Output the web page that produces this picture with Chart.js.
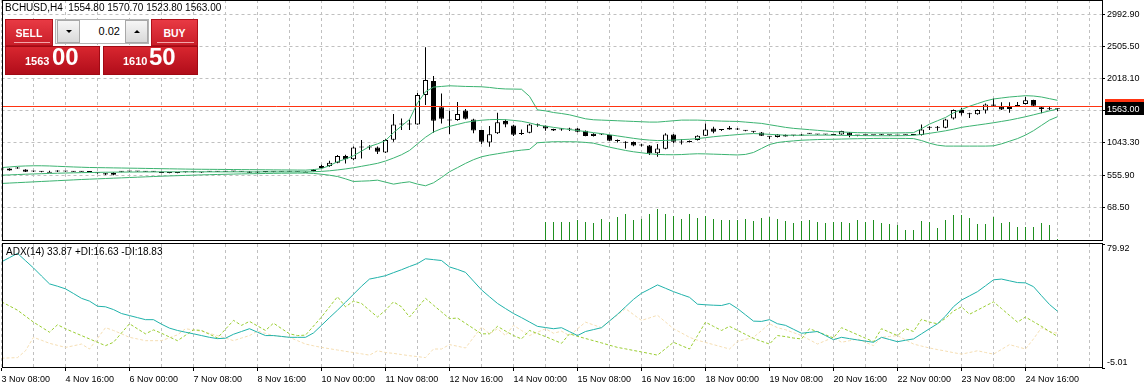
<!DOCTYPE html>
<html><head><meta charset="utf-8">
<script src="https://cdn.jsdelivr.net/npm/chart.js@4.4.1/dist/chart.umd.min.js"></script>
<style>
html,body{margin:0;padding:0;background:#fff;width:1147px;height:388px;overflow:hidden;}
#wrap{position:relative;width:1147px;height:388px;}
canvas{position:absolute;left:0;}
.t{position:absolute;font-family:"Liberation Sans",Arial,sans-serif;font-size:10px;color:#000;white-space:pre;line-height:12px;}
.hdr{position:absolute;background:linear-gradient(#e83a44,#c91e29);box-sizing:border-box;border:1px solid #b0101a;}
.hdr span{position:absolute;left:0;right:0;text-align:center;color:#fff;font-family:"Liberation Sans",sans-serif;font-weight:bold;font-size:10.5px;line-height:12px;}
.hdr i{position:absolute;height:1px;background:#f3a6aa;}
.box{position:absolute;background:linear-gradient(#d8262f,#b10d1a);box-sizing:border-box;border:1px solid #a00a14;}
.box span{position:absolute;color:#fff;font-family:"Liberation Sans",sans-serif;font-weight:bold;white-space:pre;}
.sm{font-size:11px;line-height:11px;}
.bg{font-size:24px;line-height:24px;}
.spin{position:absolute;background:#f2f2f2;box-sizing:border-box;border:1px solid #b4b4b4;}
.btn{position:absolute;background:linear-gradient(#f6f6f6,#d9d9d9);box-sizing:border-box;border:1px solid #a8a8a8;}
.tri{position:absolute;width:0;height:0;border-left:3px solid transparent;border-right:3px solid transparent;}
</style></head>
<body><div id="wrap">
<canvas id="main" width="1147" height="242" style="top:0;width:1147px;height:242px"></canvas>
<canvas id="ind" width="1147" height="146" style="top:242px;width:1147px;height:146px"></canvas>
<div class="t" style="left:5px;top:2px;">BCHUSD,H4  1554.80 1570.70 1523.80 1563.00</div>
<div class="t" style="left:6px;top:246px;">ADX(14) 33.87 +DI:16.63 -DI:18.83</div>

<div class="hdr" style="left:5px;top:19px;width:48px;height:27px;"><span style="top:7px;">SELL</span><i style="left:8px;width:36px;top:22px;"></i></div>
<div class="spin" style="left:55px;top:19px;width:94px;height:25px;">
  <div class="btn" style="left:1px;top:0px;width:23px;height:23px;"><div class="tri" style="left:8px;top:9px;border-top:3px solid #000;"></div></div>
  <div style="position:absolute;left:24px;top:0;width:45px;height:23px;background:#fff;"><span style="position:absolute;right:5px;top:6px;font-family:'Liberation Sans',sans-serif;font-size:11px;line-height:11px;color:#000;">0.02</span></div>
  <div class="btn" style="left:69px;top:0px;width:23px;height:23px;"><div class="tri" style="left:8px;top:9px;border-bottom:3px solid #000;"></div></div>
</div>
<div class="hdr" style="left:151px;top:19px;width:47px;height:27px;"><span style="top:7px;">BUY</span><i style="left:5px;width:37px;top:22px;"></i></div>
<div class="box" style="left:5px;top:46px;width:95px;height:29px;"><span class="sm" style="left:19px;top:9px;">1563</span><span class="bg" style="left:46px;top:-2px;">00</span></div>
<div class="box" style="left:103px;top:46px;width:95px;height:29px;"><span class="sm" style="left:19px;top:9px;">1610</span><span class="bg" style="left:45px;top:-2px;">50</span></div>
</div>
<script>
// ---------- data ----------
const timeLabels = ['3 Nov 08:00','4 Nov 16:00','6 Nov 00:00','7 Nov 08:00','8 Nov 16:00','10 Nov 00:00','11 Nov 08:00','12 Nov 16:00','14 Nov 00:00','15 Nov 08:00','16 Nov 16:00','18 Nov 00:00','19 Nov 08:00','20 Nov 16:00','22 Nov 00:00','23 Nov 08:00','24 Nov 16:00'];
const priceTicks = [68.5, 555.9, 1043.3, 1530.7, 2018.1, 2505.5, 2992.9];
const priceTickLabels = ['68.50','555.90','1043.30','1530.70','2018.10','2505.50','2992.90'];
const adxTicks = [-5.01, 79.92];
const adxTickLabels = ['-5.01','79.92'];
const bid = 1563.00, ask = 1610.50;

const opens = [645,628,658,640,612,607,607,610,612,610,608,607,600,583,562,608,611,610,611,609,606,592,590,600,601,598,608,610,609,611,610,612,595,604,606,607,608,607,607,617,663,693,743,845,795,976,976,976,900,1092,1325,1325,1325,1769,1982,1583,1400,1390,1537,1401,1239,1052,1189,1375,1310,1190,1198,1312,1304,1254,1250,1248,1264,1228,1183,1172,1163,1074,1047,1057,1007,1007,886,955,1173,1052,1068,1087,1153,1264,1239,1274,1264,1228,1213,1204,1137,1133,1163,1158,1173,1183,1173,1174,1166,1173,1204,1158,1160,1160,1168,1160,1158,1168,1165,1163,1274,1274,1274,1416,1542,1477,1477,1537,1628,1592,1557,1618,1633,1694,1583,1557,1554.8];
const highs = [655,662,680,645,622,620,622,630,618,615,614,612,605,590,598,615,616,615,617,614,610,598,596,606,607,604,614,615,616,617,615,616,610,611,612,613,612,612,611,650,712,773,860,865,990,1087,1010,990,1100,1481,1416,1400,1800,2493,2057,1795,1532,1663,1560,1410,1245,1299,1501,1400,1320,1249,1335,1340,1310,1260,1270,1275,1270,1232,1190,1185,1168,1095,1070,1065,1030,1012,1027,1190,1178,1100,1080,1160,1340,1290,1255,1300,1270,1240,1225,1210,1145,1178,1170,1165,1180,1190,1180,1180,1172,1230,1210,1165,1166,1166,1180,1166,1164,1172,1170,1325,1295,1300,1410,1550,1577,1500,1550,1640,1719,1660,1660,1665,1740,1700,1590,1600,1570.7];
const lows = [638,622,652,603,605,598,600,603,606,604,603,600,578,560,555,600,605,604,606,603,585,586,586,595,596,590,603,604,605,606,604,588,585,600,601,602,603,602,603,612,655,685,735,734,780,810,940,875,890,1062,1239,1239,1320,1618,1198,1340,1178,1380,1400,1189,1027,986,1180,1280,1150,1165,1190,1290,1230,1225,1230,1225,1205,1145,1140,1165,1070,1050,961,995,990,860,834,950,1040,1020,1050,1080,1150,1190,1225,1245,1240,1220,1200,1150,1105,1128,1140,1145,1150,1178,1168,1168,1160,1168,1130,1145,1154,1155,1162,1152,1152,1164,1160,1155,1240,1230,1265,1400,1460,1420,1470,1490,1600,1545,1500,1590,1625,1600,1492,1540,1523.8];
const closes = [643,658,655,607,615,609,607,612,610,608,607,605,583,567,592,612,610,611,609,610,590,590,592,601,600,597,610,609,611,610,609,594,596,606,607,608,607,608,607,643,693,743,845,795,976,980,980,910,1087,1325,1330,1330,1769,1997,1380,1410,1385,1481,1410,1234,1062,1174,1356,1325,1168,1180,1325,1318,1264,1234,1249,1250,1213,1148,1148,1174,1077,1072,1049,1007,1009,886,961,1173,1062,1054,1058,1153,1249,1213,1241,1249,1249,1230,1215,1153,1139,1173,1143,1160,1158,1185,1175,1172,1165,1224,1153,1157,1161,1159,1167,1161,1159,1169,1166,1249,1276,1275,1401,1542,1492,1479,1542,1628,1607,1552,1587,1598,1689,1607,1557,1555,1563];
const volumes = [null,null,null,null,null,null,null,null,null,null,null,null,null,null,null,null,null,null,null,null,null,null,null,null,null,null,null,null,null,null,null,null,null,null,null,null,null,null,null,null,null,null,null,null,null,null,null,null,null,null,null,null,null,null,null,null,null,null,null,null,null,null,null,null,null,null,null,null,19,19,19,19,21,19,18,22,19,24,27,21,22,27,32,27,25,22,27,23,25,22,21,21,21,22,20,23,24,22,20,18,20,21,19,18,19,19,18,21,19,21,18,17,16,11,11,20,19,13,21,26,26,23,17,17,24,18,19,14,14,14,18,16,2];

const bbUpper = [670,680,690,695,698,698,695,690,685,680,676,672,670,668,666,664,662,660,658,656,654,652,650,648,646,645,644,643,642,641,640,639,638,637,636,635,634,633,632,640,655,700,760,800,850,920,990,1030,1080,1200,1300,1400,1650,1820,1890,1900,1910,1905,1900,1898,1895,1885,1870,1862,1860,1858,1750,1545,1530,1505,1490,1470,1440,1410,1395,1390,1385,1380,1375,1370,1365,1360,1360,1370,1380,1390,1390,1390,1385,1380,1375,1372,1370,1360,1350,1340,1320,1300,1280,1265,1255,1245,1235,1225,1215,1210,1205,1200,1198,1196,1195,1195,1196,1198,1200,1260,1330,1380,1430,1500,1550,1600,1640,1680,1710,1725,1740,1750,1760,1755,1740,1715,1690];
const bbMiddle = [555,560,565,570,574,578,582,585,588,591,594,596,598,600,601,602,603,604,605,605,606,606,606,606,606,606,606,606,606,606,606,605,605,605,605,605,605,605,605,608,613,622,635,650,668,690,712,735,770,815,865,930,1030,1130,1210,1260,1295,1325,1355,1375,1388,1397,1400,1396,1386,1372,1348,1315,1298,1280,1264,1248,1232,1216,1200,1185,1168,1150,1132,1114,1098,1087,1080,1082,1088,1094,1100,1110,1124,1138,1150,1160,1170,1180,1186,1182,1174,1167,1162,1160,1160,1162,1163,1163,1161,1159,1157,1156,1155,1154,1153,1153,1153,1155,1160,1172,1190,1208,1228,1252,1280,1298,1315,1332,1350,1370,1390,1415,1441,1470,1500,1530,1557];
const bbLower = [430,436,442,448,454,460,466,472,478,484,490,495,500,505,510,515,520,525,530,535,540,544,548,552,556,560,563,566,569,572,575,577,579,581,583,585,586,587,588,582,570,555,535,500,460,465,470,480,450,420,440,455,420,395,440,520,607,670,734,790,834,860,880,900,920,935,946,1047,1055,1062,1062,1062,1060,1052,1040,1010,980,955,930,910,895,880,870,866,865,868,875,880,878,874,870,866,862,870,900,960,1020,1050,1065,1075,1085,1090,1095,1098,1100,1103,1106,1108,1110,1112,1113,1113,1113,1112,1110,1080,1040,1010,996,996,996,996,996,996,1000,1030,1070,1110,1163,1230,1310,1390,1441];

const adx = [67.7,70.6,73.5,68.5,63.5,58.0,52.6,51.0,49.2,46.0,42.7,40.8,37.3,36.9,35.0,32.3,30.9,29.5,28.1,28.1,25.0,22.3,20.7,19.5,18.4,17.2,16.0,15.1,15.4,18.1,20.0,21.9,19.5,17.2,17.2,16.6,16.0,16.0,16.0,19.0,24.2,29.5,34.6,40.0,45.5,51.0,55.9,57.0,58.2,60.3,62.3,64.5,66.5,69.8,69.2,68.6,64.2,62.5,60.5,54.5,48.5,43.8,39.2,35.7,32.3,29.5,26.5,23.5,22.7,21.9,22.6,19.9,17.2,20.0,21.3,22.6,27.2,31.8,36.9,42.0,46.2,49.0,51.9,49.6,47.3,45.3,43.4,38.7,38.3,38.0,37.8,39.2,35.7,31.4,27.1,26.9,28.1,25.3,24.2,21.5,18.8,19.4,20.0,17.2,14.4,16.0,15.1,14.2,13.4,12.6,16.0,14.5,13.0,14.0,14.9,18.4,21.9,25.3,30.5,37.0,41.5,44.4,47.3,51.3,55.4,55.9,54.7,53.5,53.3,50.7,44.5,38.5,33.87];
const plusDI = [40.3,37.5,34.6,30.5,26.4,23.0,19.5,24.6,21.9,19.5,17.2,14.9,12.6,10.3,12.6,19.0,25.3,21.8,18.4,21.1,18.8,16.2,13.7,17.4,21.1,20.7,18.1,15.6,21.6,27.6,24.2,26.9,23.8,20.7,25.7,22.0,18.4,17.2,17.5,23.7,29.9,36.9,43.8,36.9,40.8,39.2,34.5,29.9,34.6,40.3,36.9,29.9,36.3,42.7,38.0,33.4,28.8,29.2,25.6,22.0,18.4,18.4,23.5,20.3,17.2,14.9,20.7,18.6,16.5,14.2,11.9,18.4,16.7,15.2,13.7,12.2,10.6,9.1,8.1,7.0,6.0,4.9,3.8,8.2,12.6,10.3,8.0,17.2,26.4,23.5,20.7,23.5,20.8,18.0,15.3,13.3,11.4,17.2,16.5,15.5,14.9,21.9,19.8,17.7,15.6,22.6,20.2,17.8,15.4,13.0,21.9,19.5,17.2,21.9,20.0,28.3,26.4,25.3,29.0,34.0,36.9,31.8,34.6,37.5,40.3,35.7,31.0,26.4,29.9,26.7,23.5,20.0,16.63];
const minusDI = [1.7,1.9,2.1,6.8,16.0,14.0,11.9,10.5,9.1,10.2,11.4,8.0,15.3,22.6,20.7,18.4,16.0,14.9,13.7,13.7,13.7,15.7,17.7,21.9,21.0,20.2,18.7,17.2,15.5,13.7,15.5,17.2,20.2,18.7,17.2,16.6,16.0,13.7,11.4,10.2,9.1,8.2,7.3,6.4,5.6,4.7,3.8,6.8,5.6,5.0,4.2,3.4,2.8,2.1,8.0,8.0,11.0,9.9,8.7,15.9,23.0,18.4,21.9,17.2,24.2,20.7,17.2,19.5,21.9,18.8,20.2,17.2,21.8,26.4,24.5,22.6,27.0,31.3,35.7,31.6,27.6,29.3,31.1,26.5,21.9,19.0,16.0,14.0,12.5,11.0,9.5,8.0,13.3,14.6,16.0,20.6,25.3,22.6,21.2,19.2,17.2,14.3,11.4,13.7,16.0,12.6,13.7,14.9,12.6,10.3,16.0,16.6,17.2,14.3,11.4,10.0,8.7,7.6,6.6,5.5,4.5,5.6,6.8,5.6,4.5,7.7,11.0,9.5,8.0,14.9,22.6,19.9,18.83];

// ---------- chart building ----------
const FONT = '"Liberation Sans",Arial,sans-serif';
Chart.defaults.font.family = FONT;
Chart.defaults.font.size = 9;
Chart.defaults.color = '#000';
const GRID = '#c0c0c0';
const X_MAX = 137.5625;
const idx = closes.map((_, i) => i);
const gridBars = [];
for (let k = 0; k <= 136; k += 4) gridBars.push(k);

const pts = arr => idx.map(i => ({x: i, y: arr[i]}));
const noPad = s => { s.paddingTop = 0; s.paddingBottom = 0; s.paddingLeft = 0; s.paddingRight = 0; };

const framePlugin = {
  id: 'frame',
  afterDraw(chart) {
    const {ctx, chartArea: a} = chart;
    ctx.save();
    ctx.strokeStyle = '#000'; ctx.lineWidth = 1;
    const l = 2.5, r = Math.round(a.right) + 0.5, t = Math.round(a.top) + 0.5 - (chart.canvas.id === 'ind' ? 1 : 0), b = Math.round(a.bottom) - 0.5;
    ctx.strokeRect(l, t, r - l, b - t);
    ctx.restore();
  }
};

const priceLinePlugin = {
  id: 'priceLines',
  afterDatasetsDraw(chart) {
    const {ctx, chartArea: a, scales} = chart;
    const ya = Math.round(scales.y.getPixelForValue(ask)) + 0.5;
    ctx.save();
    ctx.strokeStyle = '#ff3311'; ctx.lineWidth = 1;
    ctx.beginPath(); ctx.moveTo(a.left, ya); ctx.lineTo(a.right, ya); ctx.stroke();
    ctx.restore();
  },
  afterDraw(chart) {
    const {ctx, chartArea: a, scales} = chart;
    const ya = scales.y.getPixelForValue(ask);
    const yb = scales.y.getPixelForValue(bid);
    ctx.save();
    ctx.fillStyle = '#ff3311';
    ctx.fillRect(a.right + 3, Math.round(ya - 6.5), 39, 13);
    ctx.fillStyle = '#000';
    ctx.fillRect(a.right + 3, Math.round(yb - 6.5), 39, 13);
    ctx.fillStyle = '#fff';
    ctx.font = '9px ' + FONT;
    ctx.textBaseline = 'middle';
    ctx.fillText(bid.toFixed(2), a.right + 5, Math.round(yb) + 0.5);
    ctx.restore();
  }
};

new Chart(document.getElementById('main'), {
  type: 'bar',
  data: {
    datasets: [
      {type: 'line', data: pts(bbUpper), borderColor: '#3cb371', borderWidth: 1, pointRadius: 0, tension: 0, yAxisID: 'y'},
      {type: 'line', data: pts(bbMiddle), borderColor: '#3cb371', borderWidth: 1, pointRadius: 0, tension: 0, yAxisID: 'y'},
      {type: 'line', data: pts(bbLower), borderColor: '#3cb371', borderWidth: 1, pointRadius: 0, tension: 0, yAxisID: 'y'},
      {data: idx.map(i => ({x: i, y: [opens[i], closes[i]]})), backgroundColor: idx.map(i => closes[i] >= opens[i] ? '#ffffff' : '#000000'),
       borderColor: '#000', borderWidth: 1, borderSkipped: false, barThickness: 5, minBarLength: 1, grouped: false, inflateAmount: 0, yAxisID: 'y'},
      {data: idx.map(i => ({x: i, y: [lows[i], highs[i]]})), backgroundColor: '#000', borderWidth: 0, barThickness: 1, grouped: false, inflateAmount: 0, yAxisID: 'y'},
      {data: idx.filter(i => volumes[i] != null).map(i => ({x: i, y: volumes[i]})), backgroundColor: '#1f8f1f', borderWidth: 0, barThickness: 1, grouped: false, inflateAmount: 0, yAxisID: 'yv'}
    ]
  },
  options: {
    responsive: false, animation: false, devicePixelRatio: 1,
    layout: {padding: {left: 1.5, top: 0, right: 0, bottom: 1}},
    plugins: {legend: {display: false}, tooltip: {enabled: false}},
    scales: {
      x: {type: 'linear', min: 0, max: X_MAX, offset: false,
          afterBuildTicks: s => { s.ticks = gridBars.map(v => ({value: v})); },
          ticks: {display: false},
          grid: {color: GRID, offset: false, drawTicks: false},
          border: {display: false, dash: [3, 3]},
          afterFit: s => { s.height = 0; noPad(s); }},
      y: {position: 'right', min: -442, max: 3210,
          afterBuildTicks: s => { s.ticks = priceTicks.map(v => ({value: v})); },
          ticks: {autoSkip: false, padding: 2, callback: (v, i) => priceTickLabels[i]},
          grid: {color: GRID, tickColor: '#000', tickLength: 3, tickBorderDash: []},
          border: {display: false, dash: [3, 3]},
          afterFit: s => { s.width = 45; noPad(s); }},
      yv: {display: false, min: 0, max: 241}
    }
  },
  plugins: [framePlugin, priceLinePlugin]
});

// indicator window: ADX(14)
const adxLabelTicks = [-5.01, -1.35, 76.95, 79.92]; // tick marks at the ends, labels just inside
new Chart(document.getElementById('ind'), {
  type: 'line',
  data: {
    datasets: [
      {data: pts(adx), borderColor: '#20b2aa', borderWidth: 1, pointRadius: 0, tension: 0},
      {data: pts(plusDI), borderColor: '#9acd32', borderWidth: 1, borderDash: [3, 2], pointRadius: 0, tension: 0},
      {data: pts(minusDI), borderColor: '#f5deb3', borderWidth: 1, borderDash: [3, 2], pointRadius: 0, tension: 0}
    ]
  },
  options: {
    responsive: false, animation: false, devicePixelRatio: 1,
    layout: {padding: {left: 1.5, top: 2, right: 0, bottom: 0}},
    plugins: {legend: {display: false}, tooltip: {enabled: false}},
    scales: {
      x: {type: 'linear', min: 0, max: X_MAX, offset: false,
          afterBuildTicks: s => { s.ticks = gridBars.map(v => ({value: v})); },
          ticks: {autoSkip: false, maxRotation: 0, minRotation: 0, align: 'start', padding: 3,
                  callback: v => (v % 8 === 0 && timeLabels[v / 8]) ? timeLabels[v / 8] : ''},
          grid: {color: GRID, offset: false, tickLength: 3, tickBorderDash: [],
                 tickColor: c => (c.tick && c.tick.label) ? '#000' : 'rgba(0,0,0,0)'},
          border: {display: false, dash: [3, 3]},
          afterFit: s => { s.height = 20; noPad(s); }},
      y: {position: 'right', min: adxTicks[0], max: adxTicks[1],
          afterBuildTicks: s => { s.ticks = adxLabelTicks.map(v => ({value: v})); },
          ticks: {autoSkip: false, padding: 2, callback: (v, i) => i === 1 ? adxTickLabels[0] : (i === 2 ? adxTickLabels[1] : '')},
          grid: {drawOnChartArea: false, tickLength: 3, tickBorderDash: [],
                 tickColor: c => (c.index === 0 || c.index === 3) ? '#000' : 'rgba(0,0,0,0)'},
          border: {display: false},
          afterFit: s => { s.width = 45; noPad(s); }}
    }
  },
  plugins: [framePlugin]
});
</script>
</body></html>
